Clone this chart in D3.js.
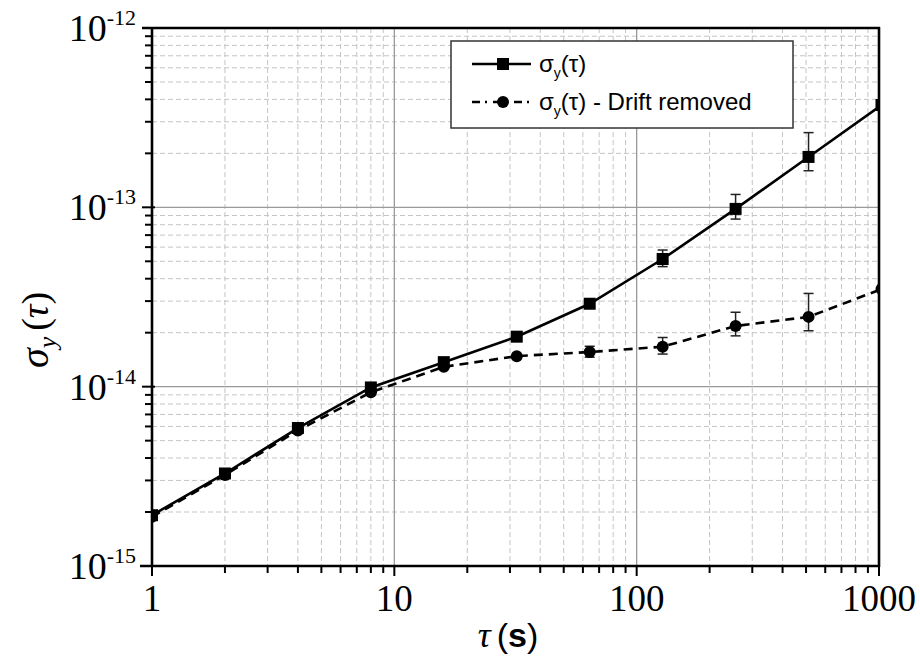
<!DOCTYPE html>
<html>
<head>
<meta charset="utf-8">
<script src="https://cdn.jsdelivr.net/npm/d3@7"></script>
<style>
  html, body { margin: 0; padding: 0; background: #fff; }
  svg { display: block; }
</style>
</head>
<body>
<svg id="chart" width="920" height="658"></svg>
<script>
// ---- data ----
const tau = [1, 2, 4, 8, 16, 32, 64, 128, 256, 512, 1024];
const sigma = [1.92e-15, 3.28e-15, 5.88e-15, 9.9e-15, 1.37e-14, 1.9e-14, 2.9e-14, 5.15e-14, 9.8e-14, 1.91e-13, 3.72e-13];
const sigmaLow = [null, null, null, null, null, null, null, 4.67e-14, 8.6e-14, 1.6e-13, null];
const sigmaHigh = [null, null, null, null, null, null, null, 5.78e-14, 1.18e-13, 2.61e-13, null];
const drift = [1.88e-15, 3.22e-15, 5.7e-15, 9.3e-15, 1.29e-14, 1.48e-14, 1.56e-14, 1.67e-14, 2.18e-14, 2.45e-14, 3.5e-14];
const driftLow = [null, null, null, null, null, null, 1.46e-14, 1.52e-14, 1.92e-14, 2.05e-14, null];
const driftHigh = [null, null, null, null, null, null, 1.68e-14, 1.88e-14, 2.6e-14, 3.31e-14, null];
const xTicks = [1, 10, 100, 1000];
const xTickLabels = ["1", "10", "100", "1000"];
const yTicks = [1e-15, 1e-14, 1e-13, 1e-12];
const yTickExps = ["-15", "-14", "-13", "-12"];
const legendLabels = ["- Drift removed"];

// ---- layout ----
const L = 152, R = 879, T = 28, B = 566;
const svg = d3.select("#chart");
const x = d3.scaleLog().domain([1, 1000]).range([L, R]);
const y = d3.scaleLog().domain([1e-15, 1e-12]).range([B, T]);

svg.append("defs").append("clipPath").attr("id", "clip")
  .append("rect").attr("x", L).attr("y", T).attr("width", R - L).attr("height", B - T);

// minor grid
const xMinor = [];
for (let d = 1; d < 1000; d *= 10) for (let k = 2; k <= 9; k++) xMinor.push(d * k);
const yMinor = [];
for (let d = 1e-15; d < 1e-12 * 0.99; d *= 10) for (let k = 2; k <= 9; k++) yMinor.push(d * k);

const grid = svg.append("g");
grid.selectAll("line.xm").data(xMinor).enter().append("line")
  .attr("x1", d => x(d)).attr("x2", d => x(d)).attr("y1", T).attr("y2", B)
  .attr("stroke", "#c4c4c4").attr("stroke-width", 1).attr("stroke-dasharray", "5,3");
grid.selectAll("line.ym").data(yMinor).enter().append("line")
  .attr("y1", d => y(d)).attr("y2", d => y(d)).attr("x1", L).attr("x2", R)
  .attr("stroke", "#c4c4c4").attr("stroke-width", 1).attr("stroke-dasharray", "5,3");
grid.selectAll("line.xM").data(xTicks.slice(1, -1)).enter().append("line")
  .attr("x1", d => x(d)).attr("x2", d => x(d)).attr("y1", T).attr("y2", B)
  .attr("stroke", "#9a9a9a").attr("stroke-width", 1.3);
grid.selectAll("line.yM").data(yTicks.slice(1, -1)).enter().append("line")
  .attr("y1", d => y(d)).attr("y2", d => y(d)).attr("x1", L).attr("x2", R)
  .attr("stroke", "#9a9a9a").attr("stroke-width", 1.3);

// series
const plot = svg.append("g").attr("clip-path", "url(#clip)");
const line = d3.line().x(d => x(d[0])).y(d => y(d[1]));

function drawSeries(vals, lows, highs, dashed, shape) {
  const pts = tau.map((t, i) => [t, vals[i]]);
  plot.append("path").datum(pts).attr("d", line)
    .attr("fill", "none").attr("stroke", "#000").attr("stroke-width", 2.6)
    .attr("stroke-dasharray", dashed ? "9,6" : null);
  const eb = tau.map((t, i) => ({ t, lo: lows[i], hi: highs[i] })).filter(d => d.lo != null);
  const g = plot.append("g").attr("stroke", "#222").attr("stroke-width", 1.5);
  eb.forEach(d => {
    g.append("line").attr("x1", x(d.t)).attr("x2", x(d.t)).attr("y1", y(d.lo)).attr("y2", y(d.hi));
    g.append("line").attr("x1", x(d.t) - 5).attr("x2", x(d.t) + 5).attr("y1", y(d.lo)).attr("y2", y(d.lo));
    g.append("line").attr("x1", x(d.t) - 5).attr("x2", x(d.t) + 5).attr("y1", y(d.hi)).attr("y2", y(d.hi));
  });
  if (shape === "square") {
    plot.selectAll(null).data(pts).enter().append("rect")
      .attr("x", d => x(d[0]) - 6).attr("y", d => y(d[1]) - 6)
      .attr("width", 12).attr("height", 12).attr("fill", "#000");
  } else {
    plot.selectAll(null).data(pts).enter().append("circle")
      .attr("cx", d => x(d[0])).attr("cy", d => y(d[1])).attr("r", 6).attr("fill", "#000");
  }
}
drawSeries(drift, driftLow, driftHigh, true, "circle");
drawSeries(sigma, sigmaLow, sigmaHigh, false, "square");

// axes frame
const ax = svg.append("g").attr("stroke", "#000");
ax.append("line").attr("x1", 140).attr("x2", R + 1).attr("y1", B).attr("y2", B).attr("stroke-width", 2.6);
ax.append("line").attr("x1", 142).attr("x2", R + 1).attr("y1", T).attr("y2", T).attr("stroke-width", 2.6);
ax.append("line").attr("x1", L).attr("x2", L).attr("y1", T - 1).attr("y2", B + 1).attr("stroke-width", 2.6);
ax.append("line").attr("x1", R).attr("x2", R).attr("y1", T - 1).attr("y2", B + 1).attr("stroke-width", 2.6);

// x ticks
ax.selectAll(null).data(xTicks).enter().append("line")
  .attr("x1", d => x(d)).attr("x2", d => x(d)).attr("y1", B).attr("y2", B + 10).attr("stroke-width", 2);
ax.selectAll(null).data(xMinor).enter().append("line")
  .attr("x1", d => x(d)).attr("x2", d => x(d)).attr("y1", B).attr("y2", B + 7).attr("stroke-width", 2);
// y ticks
ax.selectAll(null).data(yTicks).enter().append("line")
  .attr("y1", d => y(d)).attr("y2", d => y(d)).attr("x1", L - 10).attr("x2", L + 3).attr("stroke-width", 2);
ax.selectAll(null).data(yMinor).enter().append("line")
  .attr("y1", d => y(d)).attr("y2", d => y(d)).attr("x1", L - 7).attr("x2", L).attr("stroke-width", 2);

// tick labels
const serif = "'Liberation Serif', 'DejaVu Serif', serif";
svg.selectAll(null).data(xTicks).enter().append("text")
  .attr("x", d => x(d)).attr("y", 611).attr("text-anchor", "middle")
  .attr("font-family", serif).attr("font-size", 37).attr("fill", "#000")
  .text((d, i) => xTickLabels[i]);

yTicks.forEach((d, i) => {
  const t = svg.append("text").attr("x", 136).attr("y", y(d) + 13).attr("text-anchor", "end")
    .attr("font-family", serif).attr("fill", "#000");
  t.append("tspan").attr("font-size", 38).text("10");
  t.append("tspan").attr("font-size", 22).attr("dy", -16).text(yTickExps[i]);
});

// axis titles
const sans = "'Liberation Sans', Arial, sans-serif";
const xt = svg.append("text").attr("x", 508).attr("y", 647).attr("text-anchor", "middle").attr("fill", "#000");
xt.append("tspan").attr("font-family", serif).attr("font-style", "italic").attr("font-size", 36).text("τ");
xt.append("tspan").attr("font-family", sans).attr("font-size", 34).attr("dx", 6).text("(");
xt.append("tspan").attr("font-family", sans).attr("font-size", 34).attr("font-weight", "bold").text("s");
xt.append("tspan").attr("font-family", sans).attr("font-size", 34).text(")");

const yt = svg.append("text").attr("transform", "translate(48,330) rotate(-90)")
  .attr("text-anchor", "middle").attr("fill", "#000").attr("font-family", serif);
yt.append("tspan").attr("font-style", "italic").attr("font-size", 40).text("σ");
yt.append("tspan").attr("font-style", "italic").attr("font-size", 26).attr("dy", 8).text("y");
yt.append("tspan").attr("font-size", 38).attr("dy", -8).attr("dx", 6).text("(");
yt.append("tspan").attr("font-style", "italic").attr("font-size", 38).text("τ");
yt.append("tspan").attr("font-size", 38).text(")");

// legend
const lg = svg.append("g");
lg.append("rect").attr("x", 451).attr("y", 41).attr("width", 342).attr("height", 87)
  .attr("fill", "#fff").attr("stroke", "#333").attr("stroke-width", 1.5);
const rows = [{ y: 64, dashed: false, shape: "square", extra: "" }, { y: 102, dashed: true, shape: "circle", extra: " " + legendLabels[0] }];
rows.forEach(r => {
  lg.append("line").attr("x1", 472).attr("x2", 531).attr("y1", r.y).attr("y2", r.y)
    .attr("stroke", "#000").attr("stroke-width", 2.6).attr("stroke-dasharray", r.dashed ? "8,5,2,6" : null);
  if (r.shape === "square") {
    lg.append("rect").attr("x", 497).attr("y", r.y - 6).attr("width", 12).attr("height", 12).attr("fill", "#000");
  } else {
    lg.append("circle").attr("cx", 503).attr("cy", r.y).attr("r", 6).attr("fill", "#000");
  }
  const t = lg.append("text").attr("x", 539).attr("y", r.y + 8).attr("font-family", sans).attr("font-size", 24).attr("fill", "#000");
  t.append("tspan").text("σ");
  t.append("tspan").attr("font-size", 14).attr("dy", 6).text("y");
  t.append("tspan").attr("dy", -6).text("(τ)" + r.extra);
});
</script>
</body>
</html>
